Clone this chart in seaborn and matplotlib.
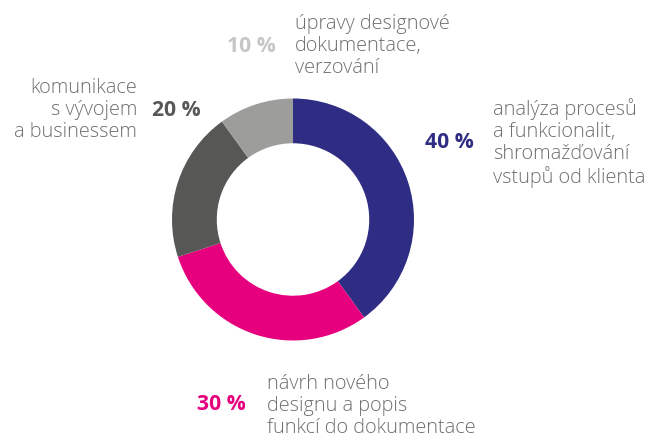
import matplotlib.pyplot as plt
import seaborn as sns

sns.set_theme(style="white")
plt.rcParams['font.family'] = ['Open Sans', 'DejaVu Sans']

# Data
categories = ["analýza procesů\na funkcionalit,\nshromažďování\nvstupů od klienta",
              "návrh nového\ndesignu a popis\nfunkcí do dokumentace",
              "komunikace\ns vývojem\na businessem",
              "úpravy designové\ndokumentace,\nverzování"]
shares = [40, 30, 20, 10]
pct_labels = ["40 %", "30 %", "20 %", "10 %"]
colors = ["#2e2d83", "#e6007e", "#575756", "#9d9d9c"]
pct_colors = ["#2e2d83", "#e6007e", "#575756", "#c6c6c6"]

W, H = 649, 438
fig = plt.figure(figsize=(W / 100, H / 100), dpi=100)
ax = fig.add_axes([0, 0, 1, 1])

# donut
ax.pie(shares, colors=colors, startangle=90, counterclock=False,
       center=(293, H - 219.5), radius=121, frame=True,
       wedgeprops=dict(width=121 * 0.37, edgecolor='none'))
ax.set_xlim(0, W)
ax.set_ylim(0, H)
ax.set_aspect('equal')
ax.axis('off')

text_color = "#6f6f6e"
# (description x, y, ha) and (percent x, y, ha)
desc_pos = [(493, 143, 'left'), (267, 406, 'left'), (137, 110, 'right'), (295, 46, 'left')]
pct_pos = [(474, 143, 'right'), (246, 404, 'right'), (152, 110, 'left'), (276, 47, 'right')]

for cat, lab, pc, (dx, dy, dha), (px, py, pha) in zip(categories, pct_labels, pct_colors, desc_pos, pct_pos):
    ax.text(dx, H - dy, cat, ha=dha, va='center', fontsize=14.3, fontweight='light',
            color=text_color, linespacing=1.12, multialignment=dha)
    ax.text(px, H - py, lab, ha=pha, va='center', fontsize=15.2, fontweight='bold', color=pc)

fig.savefig("out.png", dpi=100)
